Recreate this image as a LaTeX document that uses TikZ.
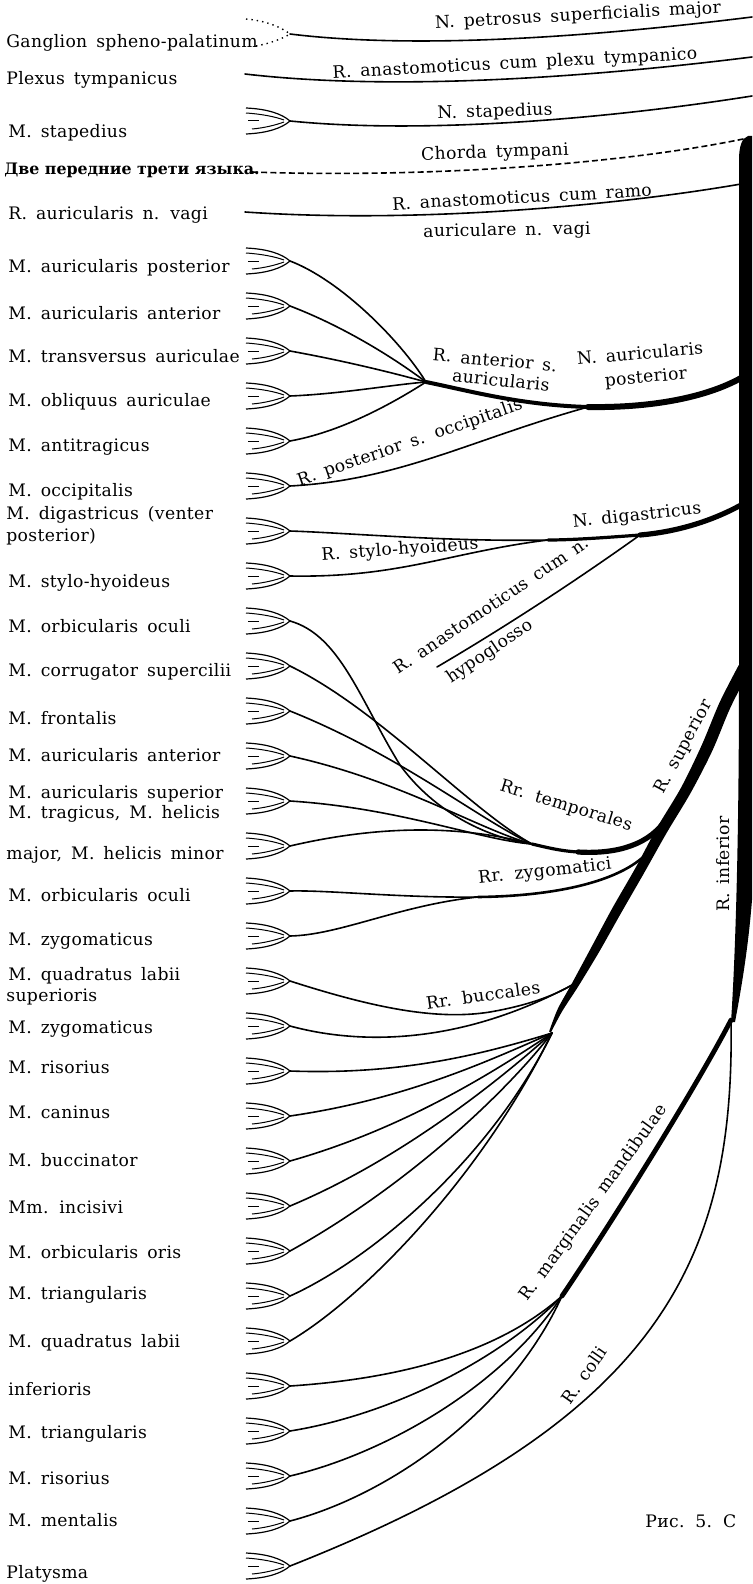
\documentclass[tikz,border=0pt]{standalone}
\usepackage{fontspec}
\setmainfont{DejaVu Serif}
\newfontfamily\lblface[LetterSpace=2]{DejaVu Serif}
\usetikzlibrary{positioning,calc}
\newcommand\lblfont{\lblface\fontsize{8.6}{10}\selectfont\spaceskip 0.52em plus 0.1em\relax}

\begin{document}
\begin{tikzpicture}[x=0.5pt, y=-0.5pt,
  nerve/.style={line width=0.8pt, line cap=round},
  lbl/.style={anchor=west, inner sep=0pt, font=\lblfont},
  tag/.style={inner sep=0pt, font=\lblfont},
  ending/.pic={
    \draw[line width=0.6pt] (-44,-13) .. controls (-22,-12) and (-8,-7) .. (0,0)
                            .. controls (-8,7) and (-22,12) .. (-44,13);
    \draw[line width=0.5pt] (-44,-8) .. controls (-28,-7) and (-14,-4) .. (-6,-1);
    \draw[line width=0.5pt] (-38,8) .. controls (-26,7) and (-14,4) .. (-6,1);
    \draw[line width=0.5pt] (-42,0) -- (-31,0);
  }
]
\useasboundingbox (0,0) rectangle (752,1584);

% ======= muscle endings =======
\coordinate (st) at (290,121);
\pic at (st) {ending};
\foreach \i in {1,...,30} {
  \coordinate (m\i) at (290,{261+45*(\i-1)});
  \pic at (m\i) {ending};
}

% ======= muscle labels =======
\node[lbl] (gan)   at (6,43)   {Ganglion spheno-palatinum};
\node[lbl] (plex)  at (6,80)   {Plexus tympanicus};
\node[lbl] (stap)  at (8,133)  {M. stapedius};
\node[lbl, font=\bfseries\fontsize{7.9}{10}\selectfont] (ling) at (4,170) {Две передние трети языка.};
\node[lbl] (vag)   at (8,215)  {R. auricularis n. vagi};
\node[lbl] (t1)  at (8,268)  {M. auricularis posterior};
\node[lbl] (t2)  at (8,313)  {M. auricularis anterior};
\node[lbl] (t3)  at (8,356)  {M. transversus auriculae};
\node[lbl] (t4)  at (8,402)  {M. obliquus auriculae};
\node[lbl] (t5)  at (8,447)  {M. antitragicus};
\node[lbl] (t6)  at (8,492)  {M. occipitalis};
\node[lbl] (t7a) at (6,515)  {M. digastricus (venter};
\node[lbl] (t7b) at (6,537)  {posterior)};
\node[lbl] (t8)  at (8,583)  {M. stylo-hyoideus};
\node[lbl] (t9)  at (8,626)  {M. orbicularis oculi};
\node[lbl] (t10) at (8,672)  {M. corrugator supercilii};
\node[lbl] (t11) at (8,718)  {M. frontalis};
\node[lbl] (t12) at (8,755)  {M. auricularis anterior};
\node[lbl] (t13) at (8,794)  {M. auricularis superior};
\node[lbl] (t14a) at (8,814) {M. tragicus, M. helicis};
\node[lbl] (t14b) at (6,855) {major, M. helicis minor};
\node[lbl] (t15) at (8,895)  {M. orbicularis oculi};
\node[lbl] (t16) at (8,941)  {M. zygomaticus};
\node[lbl] (t17a) at (8,976) {M. quadratus labii};
\node[lbl] (t17b) at (6,997) {superioris};
\node[lbl] (t18) at (8,1029) {M. zygomaticus};
\node[lbl] (t19) at (8,1067) {M. risorius};
\node[lbl] (t20) at (8,1112) {M. caninus};
\node[lbl] (t21) at (8,1160) {M. buccinator};
\node[lbl] (t22) at (8,1207) {Mm. incisivi};
\node[lbl] (t23) at (8,1252) {M. orbicularis oris};
\node[lbl] (t24) at (8,1295) {M. triangularis};
\node[lbl] (t25) at (8,1343) {M. quadratus labii};
\node[lbl] (t26) at (8,1389) {inferioris};
\node[lbl] (t27) at (8,1434) {M. triangularis};
\node[lbl] (t28) at (8,1478) {M. risorius};
\node[lbl] (t29) at (8,1520) {M. mentalis};
\node[lbl] (t30) at (6,1574) {Platysma};

% ======= upper branches =======
\coordinate (ganTip) at (290,34);
\coordinate (petEnd) at (752,17);
\coordinate (plexA) at (245,74);
\coordinate (plexEnd) at (752,57);
\coordinate (stEnd) at (752,96);
\coordinate (chA) at (252,172);
\coordinate (chEnd) at (748,138);
\coordinate (vagA) at (245,212);
\coordinate (vagEnd) at (741,184);
\draw[dotted, line width=0.7pt] (246,19) .. controls (268,21) and (282,28) .. (ganTip);
\draw[dotted, line width=0.7pt] (256,46) .. controls (268,44) and (282,39) .. (ganTip);
\draw[nerve] (ganTip) .. controls (420,50) and (600,36) .. (petEnd);
\draw[nerve] (plexA) .. controls (400,92) and (600,76) .. (plexEnd);
\draw[nerve] (st) .. controls (420,134) and (600,120) .. (stEnd);
\draw[line width=0.8pt, dash pattern=on 3pt off 1.6pt] (chA) .. controls (420,178) and (620,165) .. (chEnd);
\draw[nerve] (vagA) .. controls (420,224) and (620,205) .. (vagEnd);

\node[tag, rotate=3] (pet)  at (578,16)  {N. petrosus superficialis major};
\node[tag, rotate=3] (anp)  at (515,64)  {R. anastomoticus cum plexu tympanico};
\node[tag, rotate=2] (nst)  at (495,112) {N. stapedius};
\node[tag, rotate=2] (cht)  at (495,153) {Chorda tympani};
\node[tag, rotate=3] (anr)  at (522,197) {R. anastomoticus cum ramo};
\node[tag, rotate=1] (anr2) at (507,231) {auriculare n. vagi};

% ======= trunk and R. superior =======
\fill (752,136) -- (748,136) .. controls (742,138) and (739,146) .. (739,160)
  -- (739,672) .. controls (739,800) and (737,930) .. (731,1022)
  -- (735,1022) .. controls (741,990) and (748,950) .. (752,900) -- cycle;
\fill plot[smooth] coordinates {(738.7,665.2) (719.7,702.2) (701.7,745.2) (681.2,787.4)
    (657.2,827.4) (635.6,867.7) (612.6,907.7) (591,947.9) (571.9,983.4) (557.8,1008.8) (549.1,1031.5)}
  -- plot[smooth] coordinates {(550.9,1032.5) (562.2,1011.2) (578.1,986.6) (599,952.1)
    (621.4,912.4) (644.4,872.4) (666.8,832.6) (690.8,792.6) (712.3,750.8) (730.3,707.8) (749.3,670.8)}
  -- cycle;

% ======= N. auricularis posterior =======
\coordinate (aurRoot) at (741,378);
\coordinate (aurOcc) at (588,407);
\coordinate (aurJ) at (426,382);
\draw[line width=3pt, line cap=round] (aurRoot) .. controls (705,398) and (650,408) .. (aurOcc);
\draw[line width=2pt, line cap=round] (aurOcc) .. controls (520,405) and (470,391) .. (aurJ);
\draw[nerve] (m1) .. controls (340,280) and (400,340) .. (aurJ);
\draw[nerve] (m2) .. controls (340,325) and (390,355) .. (aurJ);
\draw[nerve] (m3) .. controls (340,360) and (390,372) .. (aurJ);
\draw[nerve] (m4) .. controls (340,394) and (390,385) .. (aurJ);
\draw[nerve] (m5) .. controls (340,432) and (390,405) .. (aurJ);
\draw[nerve] (aurOcc) .. controls (470,440) and (400,480) .. (m6);

\node[tag, rotate=-5] (rant) at (495,360) {R. anterior s.};
\node[tag, rotate=-6] (rant2) at (501,380) {auricularis};
\node[tag, rotate=5] (nap) at (640,353) {N. auricularis};
\node[tag, rotate=5] (nap2) at (646,378) {posterior};
\node[tag, rotate=19] (rocc) at (410,443) {R. posterior s. occipitalis};

% ======= N. digastricus =======
\coordinate (digRoot) at (741,505);
\coordinate (digMid) at (640,535);
\coordinate (digJ) at (548,540);
\coordinate (hypEnd) at (437,667);
\draw[line width=2.6pt, line cap=round] (digRoot) .. controls (710,522) and (675,532) .. (digMid);
\draw[line width=1.6pt, line cap=round] (digMid) .. controls (600,538) and (570,540) .. (digJ);
\draw[nerve] (digJ) .. controls (450,542) and (350,533) .. (m7);
\draw[nerve] (digJ) .. controls (450,552) and (400,578) .. (m8);
\draw[nerve] (digMid) .. controls (570,585) and (500,630) .. (hypEnd);

\node[tag, rotate=6] (ndig) at (637,516) {N. digastricus};
\node[tag, rotate=4] (rsty) at (400,550) {R. stylo-hyoideus};
\node[tag, rotate=34] (rhyp) at (491,605) {R. anastomoticus cum n.};
\node[tag, rotate=34] (rhyp2) at (490,652) {hypoglosso};

% ======= Rr. temporales =======
\coordinate (tempRoot) at (664,822);
\coordinate (tempLow) at (578,852);
\coordinate (tempJ) at (532,844);
\draw[line width=2.6pt, line cap=round] (tempRoot) .. controls (645,848) and (610,854) .. (tempLow);
\draw[line width=1.6pt, line cap=round] (tempLow) .. controls (560,851) and (545,847) .. (tempJ);
\draw[nerve] (m9) .. controls (340,635) and (360,700) .. (400,765) .. controls (440,820) and (500,840) .. (tempJ);
\draw[nerve] (m10) .. controls (380,710) and (470,810) .. (tempJ);
\draw[nerve] (m11) .. controls (400,755) and (480,820) .. (tempJ);
\draw[nerve] (m12) .. controls (400,780) and (480,830) .. (tempJ);
\draw[nerve] (m13) .. controls (400,808) and (480,840) .. (tempJ);
\draw[nerve] (m14) .. controls (380,825) and (460,825) .. (tempJ);

% ======= Rr. zygomatici =======
\coordinate (zygRoot) at (650,850);
\coordinate (zygJ) at (478,897);
\draw[line width=1.3pt, line cap=round] (zygRoot) .. controls (625,880) and (560,896) .. (zygJ);
\draw[nerve] (zygJ) .. controls (400,898) and (330,890) .. (m15);
\draw[nerve] (zygJ) .. controls (400,905) and (340,935) .. (m16);

% ======= Rr. buccales =======
\coordinate (bucA) at (572,985);
\coordinate (bucB) at (552,1033);
\draw[nerve] (m17) .. controls (380,1010) and (440,1020) .. (490,1012) .. controls (530,1005) and (555,995) .. (bucA);
\draw[nerve] (m18) .. controls (360,1045) and (460,1045) .. (bucA);
\draw[nerve] (m19) .. controls (400,1075) and (480,1055) .. (bucB);
\draw[nerve] (m20) .. controls (400,1100) and (480,1065) .. (bucB);
\draw[nerve] (m21) .. controls (400,1130) and (490,1075) .. (bucB);
\draw[nerve] (m22) .. controls (400,1160) and (500,1080) .. (bucB);
\draw[nerve] (m23) .. controls (400,1190) and (500,1100) .. (bucB);
\draw[nerve] (m24) .. controls (370,1260) and (490,1160) .. (bucB);
\draw[nerve] (m25) .. controls (360,1300) and (480,1180) .. (bucB);

\node[tag, rotate=62] (rsup) at (684,747) {R. superior};
\node[tag, rotate=90] (rinf) at (723,864) {R. inferior};
\node[tag, rotate=-17] (rtemp) at (566,806) {Rr. temporales};
\node[tag, rotate=6] (rzyg) at (545,872) {Rr. zygomatici};
\node[tag, rotate=8] (rbuc) at (483,995) {Rr. buccales};

% ======= R. marginalis mandibulae, R. colli =======
\coordinate (infSplit) at (731,1020);
\coordinate (margJ) at (562,1296);
\draw[line width=2.4pt, line cap=round] (infSplit) .. controls (700,1080) and (620,1210) .. (margJ);
\draw[nerve] (m26) .. controls (380,1380) and (490,1360) .. (margJ);
\draw[nerve] (m27) .. controls (390,1415) and (500,1360) .. (margJ);
\draw[nerve] (m28) .. controls (380,1455) and (500,1390) .. (margJ);
\draw[nerve] (m29) .. controls (390,1495) and (510,1410) .. (margJ);
\draw[nerve] (infSplit) .. controls (735,1260) and (660,1420) .. (m30);

\node[tag, rotate=54] (rmarg) at (594,1203) {R. marginalis mandibulae};
\node[tag, rotate=55] (rcol) at (584,1375) {R. colli};
\node[lbl] (fig) at (645,1521) {Рис. 5. С};

\end{tikzpicture}
\end{document}
